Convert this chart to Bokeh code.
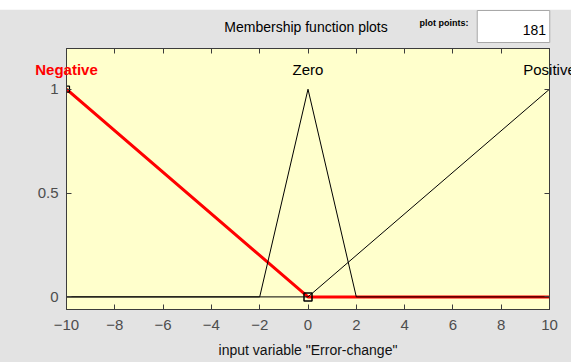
from bokeh.plotting import figure
from bokeh.models import Range1d, LinearAxis, FixedTicker, Label
from bokeh.embed import file_html
from bokeh.resources import INLINE

# ---- data ----
neg_x = [-10, 0, 10]
neg_y = [1, 0, 0]
zero_x = [-10, -2, 0, 2, 10]
zero_y = [0, 0, 1, 0, 0]
pos_x = [-10, 0, 10]
pos_y = [0, 0, 1]
mf_names = ["Negative", "Zero", "Positive"]
mf_centers = [-10, 0, 10]
mf_colors = ["#ff0000", "black", "black"]
mf_styles = ["bold", "normal", "normal"]
x_ticks = [-10, -8, -6, -4, -2, 0, 2, 4, 6, 8, 10]
y_ticks = [0, 0.5, 1]
y_tick_labels = {0: "0", 0.5: "0.5", 1: "1"}
plot_points = "181"
title_text = "Membership function plots"
x_label = 'input variable "Error-change"'

FONT = "Liberation Sans"
OY = 9                       # white strip on top
FL, FT = 66, 48              # frame left / top on the page (px)
FW, FH = 483, 261            # frame size (px)
BIG_L, BR, BT, BB = 700, 22, 39, 53   # wide left border holds the unclipped labels
Y0, Y1 = -0.0607, 1.196

def dx(px):
    return -10 + (px - FL) / FW * 20
def dy(py):
    return Y1 - (py - FT) / FH * (Y1 - Y0)

p = figure(width=BIG_L + FW + BR, height=BT + FH + BB, output_backend="svg",
           toolbar_location=None,
           x_range=Range1d(-10, 10), y_range=Range1d(Y0, Y1),
           min_border_left=BIG_L, min_border_right=BR, min_border_top=BT, min_border_bottom=BB,
           background_fill_color="#ffffcc", border_fill_color="#e3e3e3",
           x_axis_location=None, y_axis_location=None)
p.margin = (OY, 0, 0, FL - BIG_L)   # slide the unused part of the left border off the page
p.grid.visible = False
p.outline_line_color = "#3c3c3c"
p.outline_line_width = 1

def mk_axis(ticks, show_labels):
    ax = LinearAxis(ticker=FixedTicker(ticks=ticks))
    ax.axis_line_color = "#3c3c3c"
    ax.major_tick_in = 5
    ax.major_tick_out = 0
    ax.minor_tick_line_color = None
    ax.major_tick_line_color = "#3c3c3c"
    ax.major_label_text_font = FONT
    ax.major_label_text_font_size = "15px"
    ax.major_label_text_color = "#4d4d4d"
    if not show_labels:
        ax.major_label_overrides = {t: "" for t in ticks}
    return ax

xb = mk_axis(x_ticks, True)
xb.major_label_standoff = 10
xb.axis_label = x_label
xb.axis_label_text_font = FONT
xb.axis_label_text_font_size = "14px"
xb.axis_label_text_font_style = "normal"
xb.axis_label_text_color = "#111111"
xb.axis_label_standoff = 9
p.add_layout(xb, "below")
p.add_layout(mk_axis(x_ticks, False), "above")
yl = mk_axis(y_ticks, True)
yl.major_label_overrides = y_tick_labels
yl.major_label_standoff = 8
p.add_layout(yl, "left")
p.add_layout(mk_axis(y_ticks, False), "right")

# membership functions
p.line(neg_x, neg_y, line_color="#ff0000", line_width=3)
p.line(zero_x, zero_y, line_color="black", line_width=1)
p.line(pos_x, pos_y, line_color="black", line_width=1)
p.scatter([neg_x[0]], [neg_y[0]], marker="square", size=6,
          fill_color=None, line_color="black", line_width=1.2)
p.scatter([neg_x[1]], [neg_y[1]], marker="square", size=8,
          fill_color=None, line_color="black", line_width=1.5)

# Labels placed in the left side panel are not clipped to the frame
for name, cx, c, s in zip(mf_names, mf_centers, mf_colors, mf_styles):
    p.add_layout(Label(x=cx, y=dy(69), text=name, text_align="center",
                       text_baseline="middle", text_font=FONT, text_font_size="15px",
                       text_color=c, text_font_style=s), "left")

# white "plot points" edit box: background of a blank label
p.add_layout(Label(x=dx(513), y=dy(26), text="\u00a0" * 9, text_align="center",
                   text_baseline="middle", text_font=FONT, text_font_size="29px",
                   background_fill_color="white", border_line_color="#a8a8a8"), "left")

p.add_layout(Label(x=dx(305.5), y=dy(26), text=title_text, text_align="center",
                   text_baseline="middle", text_font=FONT, text_font_size="14px",
                   text_color="black"), "left")
p.add_layout(Label(x=dx(468), y=dy(22), text="plot points:", text_align="right",
                   text_baseline="middle", text_font=FONT, text_font_size="9px",
                   text_font_style="bold", text_color="black"), "left")
p.add_layout(Label(x=dx(545.5), y=dy(29), text=plot_points, text_align="right",
                   text_baseline="middle", text_font=FONT, text_font_size="14px",
                   text_color="black"), "left")

open("out.html", "w").write(file_html(p, INLINE))
